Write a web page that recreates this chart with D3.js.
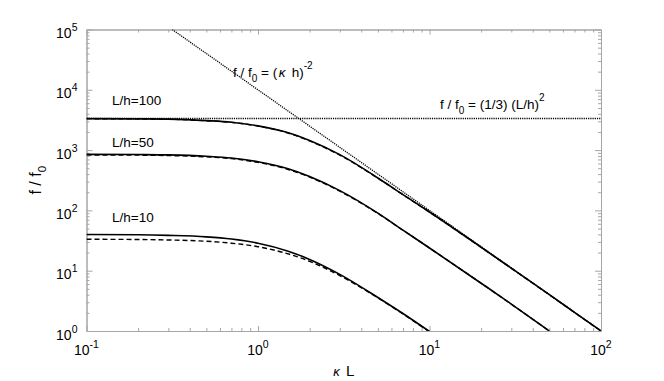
<!DOCTYPE html>
<html>
<head>
<meta charset="utf-8">
<script src="https://cdn.jsdelivr.net/npm/d3@7"></script>
<style>
body { margin: 0; background: #fff; }
text { font-family: "Liberation Sans", Arial, Helvetica, sans-serif; fill: #000; }
</style>
</head>
<body>
<svg width="664" height="381"></svg>
<script>
// values
const kappaL = [0.1, 0.2, 0.3, 0.5, 0.7, 1, 1.5, 2, 3, 5, 7, 10, 20, 30, 50, 70, 100];
const exact100 = [3330, 3300, 3260, 3080, 2900, 2520, 1940, 1440, 840, 345, 183, 94, 24.5, 11.0, 4.0, 2.04, 1.0];
const approx100 = [3322, 3292, 3250, 3068, 2886, 2500, 1915, 1420, 825, 342, 182, 93.6, 24.4, 10.95, 3.99, 2.04, 1.0];
const exact50 = [850, 843, 832, 790, 740, 640, 490, 365, 213, 90, 47, 23.8, 6.2, 2.8, 1.0];
const approx50 = [832, 825, 812, 772, 722, 626, 477, 357, 208, 89, 47, 23.8, 6.2, 2.78, 1.0];
const exact10 = [39.8, 39.4, 38.5, 36.4, 33.5, 28.6, 21.1, 15.4, 8.7, 3.6, 1.95, 0.98];
const approx10 = [33.2, 32.9, 32.3, 30.8, 28.6, 25.0, 19.0, 14.3, 8.3, 3.55, 1.92, 0.97];
const asymKL = [0.316, 100];
const asymF = [1e5, 1];
const plateauKL = [0.1, 100];
const plateauF = [3333, 3333];
const xTicks = [0.1, 1, 10, 100];
const xExp = ["-1", "0", "1", "2"];
const yTicks = [1, 10, 100, 1e3, 1e4, 1e5];
const yExp = ["0", "1", "2", "3", "4", "5"];

const margin = { top: 29.5, right: 63, bottom: 50, left: 86.5 };
const width = 664, height = 381;
const svg = d3.select("svg");

const x = d3.scaleLog().domain([0.1, 100]).range([margin.left, width - margin.right]);
const y = d3.scaleLog().domain([1, 1e5]).range([height - margin.bottom, margin.top]);

const minorX = x.ticks().filter(v => !xTicks.includes(v));
const minorY = y.ticks().filter(v => !yTicks.includes(v));
const axisColor = "#a6a6a6";

function drawAxis(axisFn, scale, pos, major, minor, bigLen, smallLen) {
  const gMaj = svg.append("g").attr("transform", pos)
    .call(axisFn(scale).tickValues(major).tickSize(-bigLen).tickFormat("").tickSizeOuter(0));
  const gMin = svg.append("g").attr("transform", pos)
    .call(axisFn(scale).tickValues(minor).tickSize(-smallLen).tickFormat("").tickSizeOuter(0));
  [gMaj, gMin].forEach(g => {
    g.selectAll("line").attr("stroke", axisColor);
    g.select(".domain").attr("stroke", axisColor);
  });
}

const bottom = height - margin.bottom;
const right = width - margin.right;
drawAxis(d3.axisBottom, x, `translate(0,${bottom})`, xTicks, minorX, 5, 3);
drawAxis(d3.axisTop, x, `translate(0,${margin.top})`, xTicks, minorX, 5, 3);
drawAxis(d3.axisLeft, y, `translate(${margin.left},0)`, yTicks, minorY, 6, 3);
drawAxis(d3.axisRight, y, `translate(${right},0)`, yTicks, minorY, 6, 3);

// tick labels
xTicks.forEach((v, i) => {
  const t = svg.append("text").attr("x", x(v)).attr("y", bottom + 24)
    .attr("text-anchor", "middle").style("font-size", "14px");
  t.append("tspan").text("10");
  t.append("tspan").attr("dy", -7).style("font-size", "10.5px").text(xExp[i]);
});
yTicks.forEach((v, i) => {
  const t = svg.append("text").attr("x", margin.left - 9).attr("y", y(v) + 8.5)
    .attr("text-anchor", "end").style("font-size", "14px");
  t.append("tspan").text("10");
  t.append("tspan").attr("dy", -7).style("font-size", "10.5px").text(yExp[i]);
});

// clip
svg.append("clipPath").attr("id", "plot").append("rect")
  .attr("x", margin.left).attr("y", margin.top)
  .attr("width", right - margin.left).attr("height", bottom - margin.top);

const line = d3.line().x(d => x(d[0])).y(d => y(d[1])).curve(d3.curveMonotoneX);
const plot = svg.append("g").attr("clip-path", "url(#plot)");

function series(xs, ys, dash, w) {
  plot.append("path")
    .attr("d", line(ys.map((v, i) => [xs[i], v])))
    .attr("fill", "none").attr("stroke", "#000")
    .attr("stroke-width", w)
    .attr("stroke-dasharray", dash);
}

series(plateauKL, plateauF, "1.2,1", 1.5);
series(asymKL, asymF, "1.2,1", 1.3);
series(kappaL, approx100, "5,3", 1.4);
series(kappaL, exact100, null, 1.6);
series(kappaL.slice(0, approx50.length), approx50, "5,3", 1.4);
series(kappaL.slice(0, exact50.length), exact50, null, 1.6);
series(kappaL.slice(0, approx10.length), approx10, "5,3", 1.4);
series(kappaL.slice(0, exact10.length), exact10, null, 1.6);

// annotations
const labelSize = "13.5px";
[["L/h=100", 105], ["L/h=50", 146.5], ["L/h=10", 221.5]].forEach(([s, yy]) => {
  svg.append("text").attr("x", 112).attr("y", yy).style("font-size", labelSize).text(s);
});

const a1 = svg.append("text").attr("x", 233).attr("y", 77).style("font-size", labelSize);
a1.append("tspan").text("f / f");
a1.append("tspan").attr("dy", 5).style("font-size", "10px").text("0");
a1.append("tspan").attr("dy", -5).text(" = (");
a1.append("tspan").attr("dx", 1.5).style("font-style", "italic").text("κ");
a1.append("tspan").attr("dx", 2.5).text(" h)");
a1.append("tspan").attr("dy", -8).style("font-size", "10px").text("-2");

const a2 = svg.append("text").attr("x", 440).attr("y", 109).style("font-size", labelSize);
a2.append("tspan").text("f / f");
a2.append("tspan").attr("dy", 5).style("font-size", "10px").text("0");
a2.append("tspan").attr("dy", -5).text(" = (1/3) (L/h)");
a2.append("tspan").attr("dy", -8).style("font-size", "10px").text("2");

// axis titles
const xt = svg.append("text").attr("x", (margin.left + right) / 2).attr("y", 376)
  .attr("text-anchor", "middle").style("font-size", "15px");
xt.append("tspan").style("font-size", "13px").style("font-style", "italic").text("κ");
xt.append("tspan").attr("dx", 2).text(" L");

const yt = svg.append("text").attr("transform", `translate(41,${(margin.top + bottom) / 2}) rotate(-90)`)
  .attr("text-anchor", "middle").style("font-size", "16px");
yt.append("tspan").text("f / f");
yt.append("tspan").attr("dy", 5).style("font-size", "11.5px").text("0");
</script>
</body>
</html>
